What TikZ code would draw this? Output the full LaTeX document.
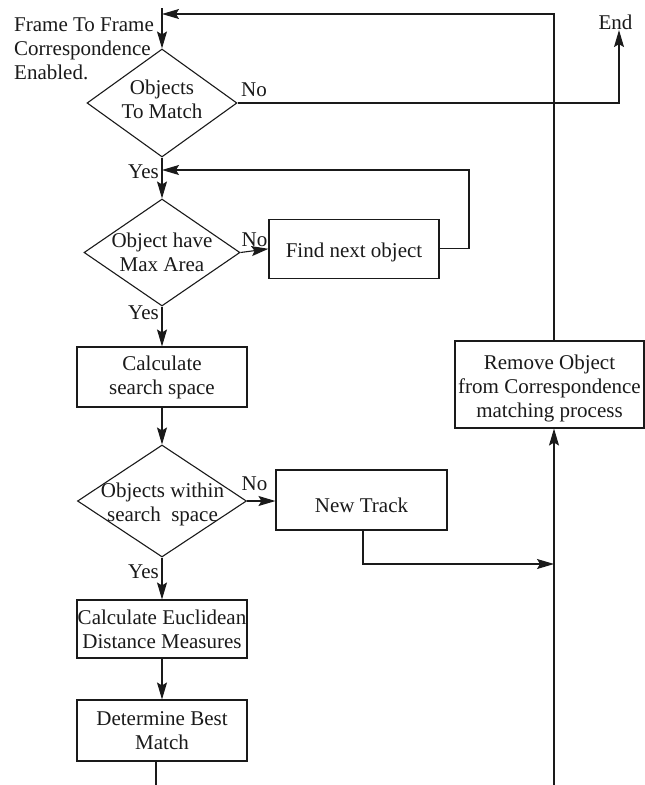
\documentclass[tikz,border=0pt]{standalone}
\usepackage{fontspec}
\setmainfont{Liberation Serif}
\usetikzlibrary{shapes.geometric,arrows.meta}
\definecolor{ink}{HTML}{1A1A1A}
\begin{document}
\begin{tikzpicture}[x=1pt,y=-1pt,
  every node/.style={font=\fontsize{21}{24}\selectfont, text=ink, inner sep=0pt},
  box/.style={draw=ink, line width=1.1pt, rectangle, align=center},
  decision/.style={draw=ink, line width=1.1pt, diamond},
  lbl/.style={align=center},
  flow/.style={draw=ink, line width=1.1pt, -{Stealth[length=17pt,width=10pt,inset=3pt]}},
  wire/.style={draw=ink, line width=1.1pt},
]
\fill[white] (0,0) rectangle (645,785);
\useasboundingbox (0,0) rectangle (645,785);

% start caption
\node[anchor=north west, align=left] (start) at (14,17.5)
  {Frame To Frame\\Correspondence\\Enabled.};
\node (endTxt) at (615.5,22.5) {End};

% decisions
\node[decision, minimum width=150pt, minimum height=108pt] (match) at (162,103) {};
\node[lbl] (matchTxt) at (162,99) {Objects\\To Match};

\node[decision, minimum width=156pt, minimum height=107pt] (maxarea) at (162,252.5) {};
\node[lbl] (maxareaTxt) at (162,252.5) {Object have\\Max Area};

\node[decision, minimum width=169pt, minimum height=112pt] (within) at (162,501) {};
\node[lbl] (withinTxt) at (162.5,504.5) {Objects within\\search~ space};

% process boxes
\node[box, minimum width=170pt, minimum height=59pt, text height=22pt, text depth=4.6pt]
  (findnext) at (354,248.8) {Find next object};
\node[box, minimum width=170pt, minimum height=60pt] (calc) at (162,377) {Calculate\\search space};
\node[box, minimum width=171pt, minimum height=60pt, text height=24pt, text depth=0pt]
  (newtrack) at (361.5,500) {New Track};
\node[box, minimum width=170pt, minimum height=58pt] (euclid) at (162,629) {Calculate Euclidean\\Distance Measures};
\node[box, minimum width=170pt, minimum height=61pt] (best) at (162,730.5) {Determine Best\\Match};
\node[box, minimum width=189pt, minimum height=87pt] (remove) at (549.5,384.5) {};
\node[lbl] (removeTxt) at (549.5,388.5) {Remove Object\\from Correspondence\\matching process};

% branch labels
\node (noA) at (254,89.5) {No};
\node (yesA) at (143.5,172) {Yes};
\node (noB) at (254.5,239.5) {No};
\node (yesB) at (143.5,313) {Yes};
\node (noC) at (254.5,484) {No};
\node (yesC) at (143.5,572) {Yes};

% routing points
\coordinate (entry) at (162,8);
\coordinate (retTop) at (554,14);
\coordinate (retEnd) at (162,14);
\coordinate (loopR) at (469,170);
\coordinate (loopEnd) at (162,170);
\coordinate (trackJoin) at (554,564);
\coordinate (spineB) at (554,785);
\coordinate (exitL) at (156,785);

% main flow
\draw[flow] (entry) -- (match.north);
\draw[flow] (match.south) -- (maxarea.north);
\draw[flow] (maxarea.south) -- (calc.north);
\draw[flow] (calc.south) -- (within.north);
\draw[flow] (within.south) -- (euclid.north);
\draw[flow] (euclid.south) -- (best.north);
\draw[wire] (best.south -| exitL) -- (exitL);

% side branches
\draw[flow] (match.east) -| ([xshift=3.5pt]endTxt.south);
\draw[flow] (maxarea.east) -- (findnext.west);
\draw[flow] (findnext.east) -| (loopR) -- (loopEnd);
\draw[flow] (within.east) -- (within.east -| newtrack.west);
\draw[flow] ([xshift=1.5pt]newtrack.south) |- (trackJoin);
\draw[flow] (spineB) -- (remove.south -| spineB);
\draw[flow] (remove.north -| retTop) -- (retTop) -- (retEnd);
\end{tikzpicture}
\end{document}
